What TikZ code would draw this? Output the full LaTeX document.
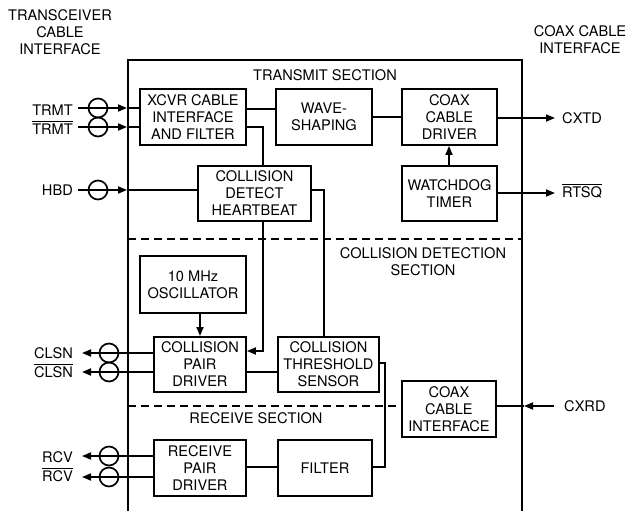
\documentclass[tikz,border=0pt]{standalone}
\usepackage{fontspec}
\setmainfont{TeX Gyre Heros}
\usetikzlibrary{arrows.meta}
\newcommand{\ovl}[1]{\leavevmode\vbox{\hrule height 1.2pt\kern1.6pt\hbox{#1}}}
\begin{document}
\begin{tikzpicture}[x=1pt,y=-1pt,
  txt/.style={font=\fontsize{14.6}{17}\selectfont},
  blk/.style={draw, line width=1.9pt, anchor=north west, align=center, inner sep=0pt, txt},
  wire/.style={line width=1.7pt},
  arr/.style={wire, -{Triangle[length=9pt,width=7pt]}},
  lbl/.style={inner sep=0pt, align=center, txt},
  ring/.style={circle, draw, line width=1.7pt, minimum size=19pt, inner sep=0pt},
  sect/.style={line width=1.8pt, dash pattern=on 8pt off 5pt}]
\useasboundingbox (0,0) rectangle (631,511);

% main outline
\draw[line width=1.6pt] (128,511) -- (128,60) -- (522,60) -- (522,511);

% titles
\node[lbl] (tci) at (60,32) {TRANSCEIVER\\CABLE\\INTERFACE};
\node[lbl] (cci0) at (580,40) {COAX CABLE\\INTERFACE};
\node[lbl] (tsec) at (325,75) {TRANSMIT SECTION};
\node[lbl] (csec) at (423,261.5) {COLLISION DETECTION\\SECTION};
\node[lbl] (rsec) at (256,418) {RECEIVE SECTION};

% blocks
\node[blk, minimum width=106pt, minimum height=56pt] (xcvr) at (139,88) {XCVR CABLE\\INTERFACE\\AND FILTER};
\node[blk, minimum width=96pt, minimum height=56pt] (wave) at (275,88) {WAVE-\\SHAPING};
\node[blk, minimum width=95pt, minimum height=56pt] (cdrv) at (401,88) {COAX\\CABLE\\DRIVER};
\node[blk, minimum width=95pt, minimum height=55pt] (wdog) at (401,165) {WATCHDOG\\TIMER};
\node[blk, minimum width=113pt, minimum height=55pt] (cdh) at (197,165) {COLLISION\\DETECT\\HEARTBEAT};
\node[blk, minimum width=106pt, minimum height=57pt] (osc) at (139,255) {10 MHz\\OSCILLATOR};
\node[blk, minimum width=92pt, minimum height=55pt] (cpd) at (153,336) {COLLISION\\PAIR\\DRIVER};
\node[blk, minimum width=101pt, minimum height=55pt] (cts) at (277,336) {COLLISION\\THRESHOLD\\SENSOR};
\node[blk, minimum width=94pt, minimum height=56pt] (cci) at (401,380) {COAX\\CABLE\\INTERFACE};
\node[blk, minimum width=92pt, minimum height=56pt] (rpd) at (153,439) {RECEIVE\\PAIR\\DRIVER};
\node[blk, minimum width=94pt, minimum height=56pt] (filt) at (277,439) {FILTER};

% section dividers
\draw[sect] (128,239) -- (522,239);
\draw[sect] (128,406) -- (cci.west |- 0,406);

% left labels
\node[lbl, anchor=east] (trmt1) at (73,110) {TRMT};
\node[lbl, anchor=east] (trmt2) at (73,128) {\ovl{TRMT}};
\node[lbl, anchor=east] (hbd) at (73,190) {HBD};
\node[lbl, anchor=east] (clsn1) at (73,353) {CLSN};
\node[lbl, anchor=east] (clsn2) at (73,371) {\ovl{CLSN}};
\node[lbl, anchor=east] (rcv1) at (73,457) {RCV};
\node[lbl, anchor=east] (rcv2) at (73,475) {\ovl{RCV}};
% right labels
\node[lbl, anchor=west] (cxtd) at (562,118) {CXTD};
\node[lbl, anchor=west] (rtsq) at (562,191) {\ovl{RTSQ}};
\node[lbl, anchor=west] (cxrd) at (564,406) {CXRD};

% coordinates
\coordinate (t1s) at (78,108);  \coordinate (t1t) at (127,108);
\coordinate (t2s) at (78,127);  \coordinate (t2t) at (127,127);
\coordinate (hs) at (78,190);   \coordinate (ht) at (127,190);
\coordinate (c1t) at (82,353);  \coordinate (c2t) at (82,372);
\coordinate (r1t) at (82,456);  \coordinate (r2t) at (82,477);
\coordinate (cxtdt) at (555,118);
\coordinate (rtsqt) at (555,193);
\coordinate (cxrds) at (554,406); \coordinate (cxrdt) at (524,406);

% input arrows
\draw[arr] (t1s) -- (t1t);
\draw[wire] (t1t) -- (xcvr.west |- t1t);
\draw[arr] (t2s) -- (t2t);
\draw[wire] (t2t) -- (xcvr.west |- t2t);
\draw[arr] (hs) -- (ht);
\draw[wire] (ht) -- (cdh.west |- ht);
% output arrows
\draw[arr] (cpd.west |- c1t) -- (c1t);
\draw[arr] (cpd.west |- c2t) -- (c2t);
\draw[arr] (rpd.west |- r1t) -- (r1t);
\draw[arr] (rpd.west |- r2t) -- (r2t);
\draw[arr] (cdrv.east |- cxtdt) -- (cxtdt);
\draw[arr] (wdog.east |- rtsqt) -- (rtsqt);
\draw[arr] (cxrds) -- (cxrdt);
\draw[wire] (cxrdt) -- (cci.east |- cxrdt);

% rings
\node[ring] (ra) at (98,108) {};
\node[ring] (rb) at (98,127) {};
\node[ring] (rc) at (98,190) {};
\node[ring] (rd) at (109,353) {};
\node[ring] (re) at (109,372) {};
\node[ring] (rf) at (109,456) {};
\node[ring] (rg) at (109,477) {};

% internal connections
\draw[wire] (xcvr.east |- 0,109) -- (wave.west |- 0,109);
\draw[wire] (wave.east |- 0,117) -- (cdrv.west |- 0,117);
\draw[arr] (wdog.north -| 449,0) -- (cdrv.south -| 449,0);
\draw[wire] (xcvr.east |- 0,127) -| (cdh.north -| 263,0);
\draw[arr] (cdh.south -| 263,0) |- (cpd.east |- 0,351);
\draw[wire] (cdh.east |- 0,190) -| (cts.north -| 324,0);
\draw[arr] (osc.south -| 200,0) -- (cpd.north -| 200,0);
\draw[wire] (cpd.east |- 0,372) -- (cts.west |- 0,372);
\draw[wire] (cts.east |- 0,363) -- (385,363) -- (385,467) -- (filt.east |- 0,467);
\draw[wire] (rpd.east |- 0,467) -- (filt.west |- 0,467);
\end{tikzpicture}
\end{document}
